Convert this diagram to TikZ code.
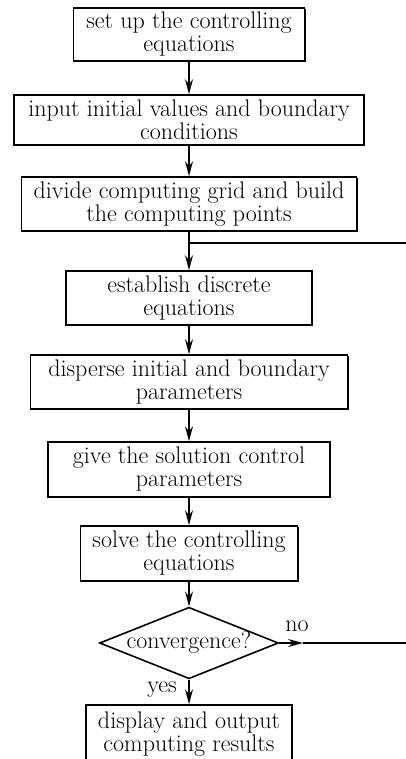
\documentclass[tikz,border=0pt]{standalone}
\usetikzlibrary{arrows.meta,shapes.geometric,shadows}

\tikzset{
  stepbox/.style={draw, fill=white, line width=1.6pt, align=center,
    inner sep=1pt, font=\fontsize{24}{23}\selectfont,
    drop shadow={shadow xshift=1.2pt, shadow yshift=-1.2pt, fill=black, opacity=1}},
  testbox/.style={draw, fill=white, line width=1.6pt, shape=diamond, aspect=2.5,
    inner sep=0pt, minimum width=175pt, minimum height=70pt,
    font=\fontsize{24}{23}\selectfont},
  flow/.style={line width=1.5pt, -{Stealth[length=15pt,width=8pt,inset=5pt]}},
  plain/.style={line width=1.5pt},
  tag/.style={font=\fontsize{24}{23}\selectfont, inner sep=0pt}
}

\begin{document}
\begin{tikzpicture}[x=1pt,y=-1pt]

\useasboundingbox (0,0) rectangle (406,759);
\clip (0,0) rectangle (406,759);

\node [stepbox, minimum width=231pt, minimum height=53pt] (setup) at (189,34.5)
  {set up the controlling\\equations};
\node [stepbox, minimum width=350pt, minimum height=50pt] (input) at (189,120)
  {input initial values and boundary\\conditions};
\node [stepbox, minimum width=335pt, minimum height=54pt] (divide) at (189,204)
  {divide computing grid and build\\the computing points};
\node [stepbox, minimum width=246pt, minimum height=54pt] (establish) at (189,298)
  {establish discrete\\equations};
\node [stepbox, minimum width=317pt, minimum height=54pt] (disperse) at (189,382)
  {disperse initial and boundary\\parameters};
\node [stepbox, minimum width=282pt, minimum height=55pt] (give) at (189,469.5)
  {give the solution control\\parameters};
\node [stepbox, minimum width=217pt, minimum height=55pt] (solve) at (189,553.5)
  {solve the controlling\\equations};
\node [testbox] (conv) at (189,643) {convergence?};
\node [stepbox, minimum width=206pt, minimum height=58pt] (display) at (189,734)
  {display and output\\computing results};

\coordinate (join) at (189,243);
\coordinate (back) at (410,243);
\coordinate (noarr) at (303,643);
\coordinate (noend) at (410,643);

\draw [flow] (setup) -- (input);
\draw [flow] (input) -- (divide);
\draw [flow] (divide) -- (establish);
\draw [plain] (back) -- (join);
\draw [flow] (establish) -- (disperse);
\draw [flow] (disperse) -- (give);
\draw [flow] (give) -- (solve);
\draw [flow] (solve) -- (conv);
\draw [flow] (conv) -- (display);
\draw [flow] (conv) -- (noarr);
\draw [plain] (noarr) -- (noend);

\node [tag] (no) at (297,626) {no};
\node [tag] (yes) at (162,690) {yes};

\end{tikzpicture}
\end{document}
